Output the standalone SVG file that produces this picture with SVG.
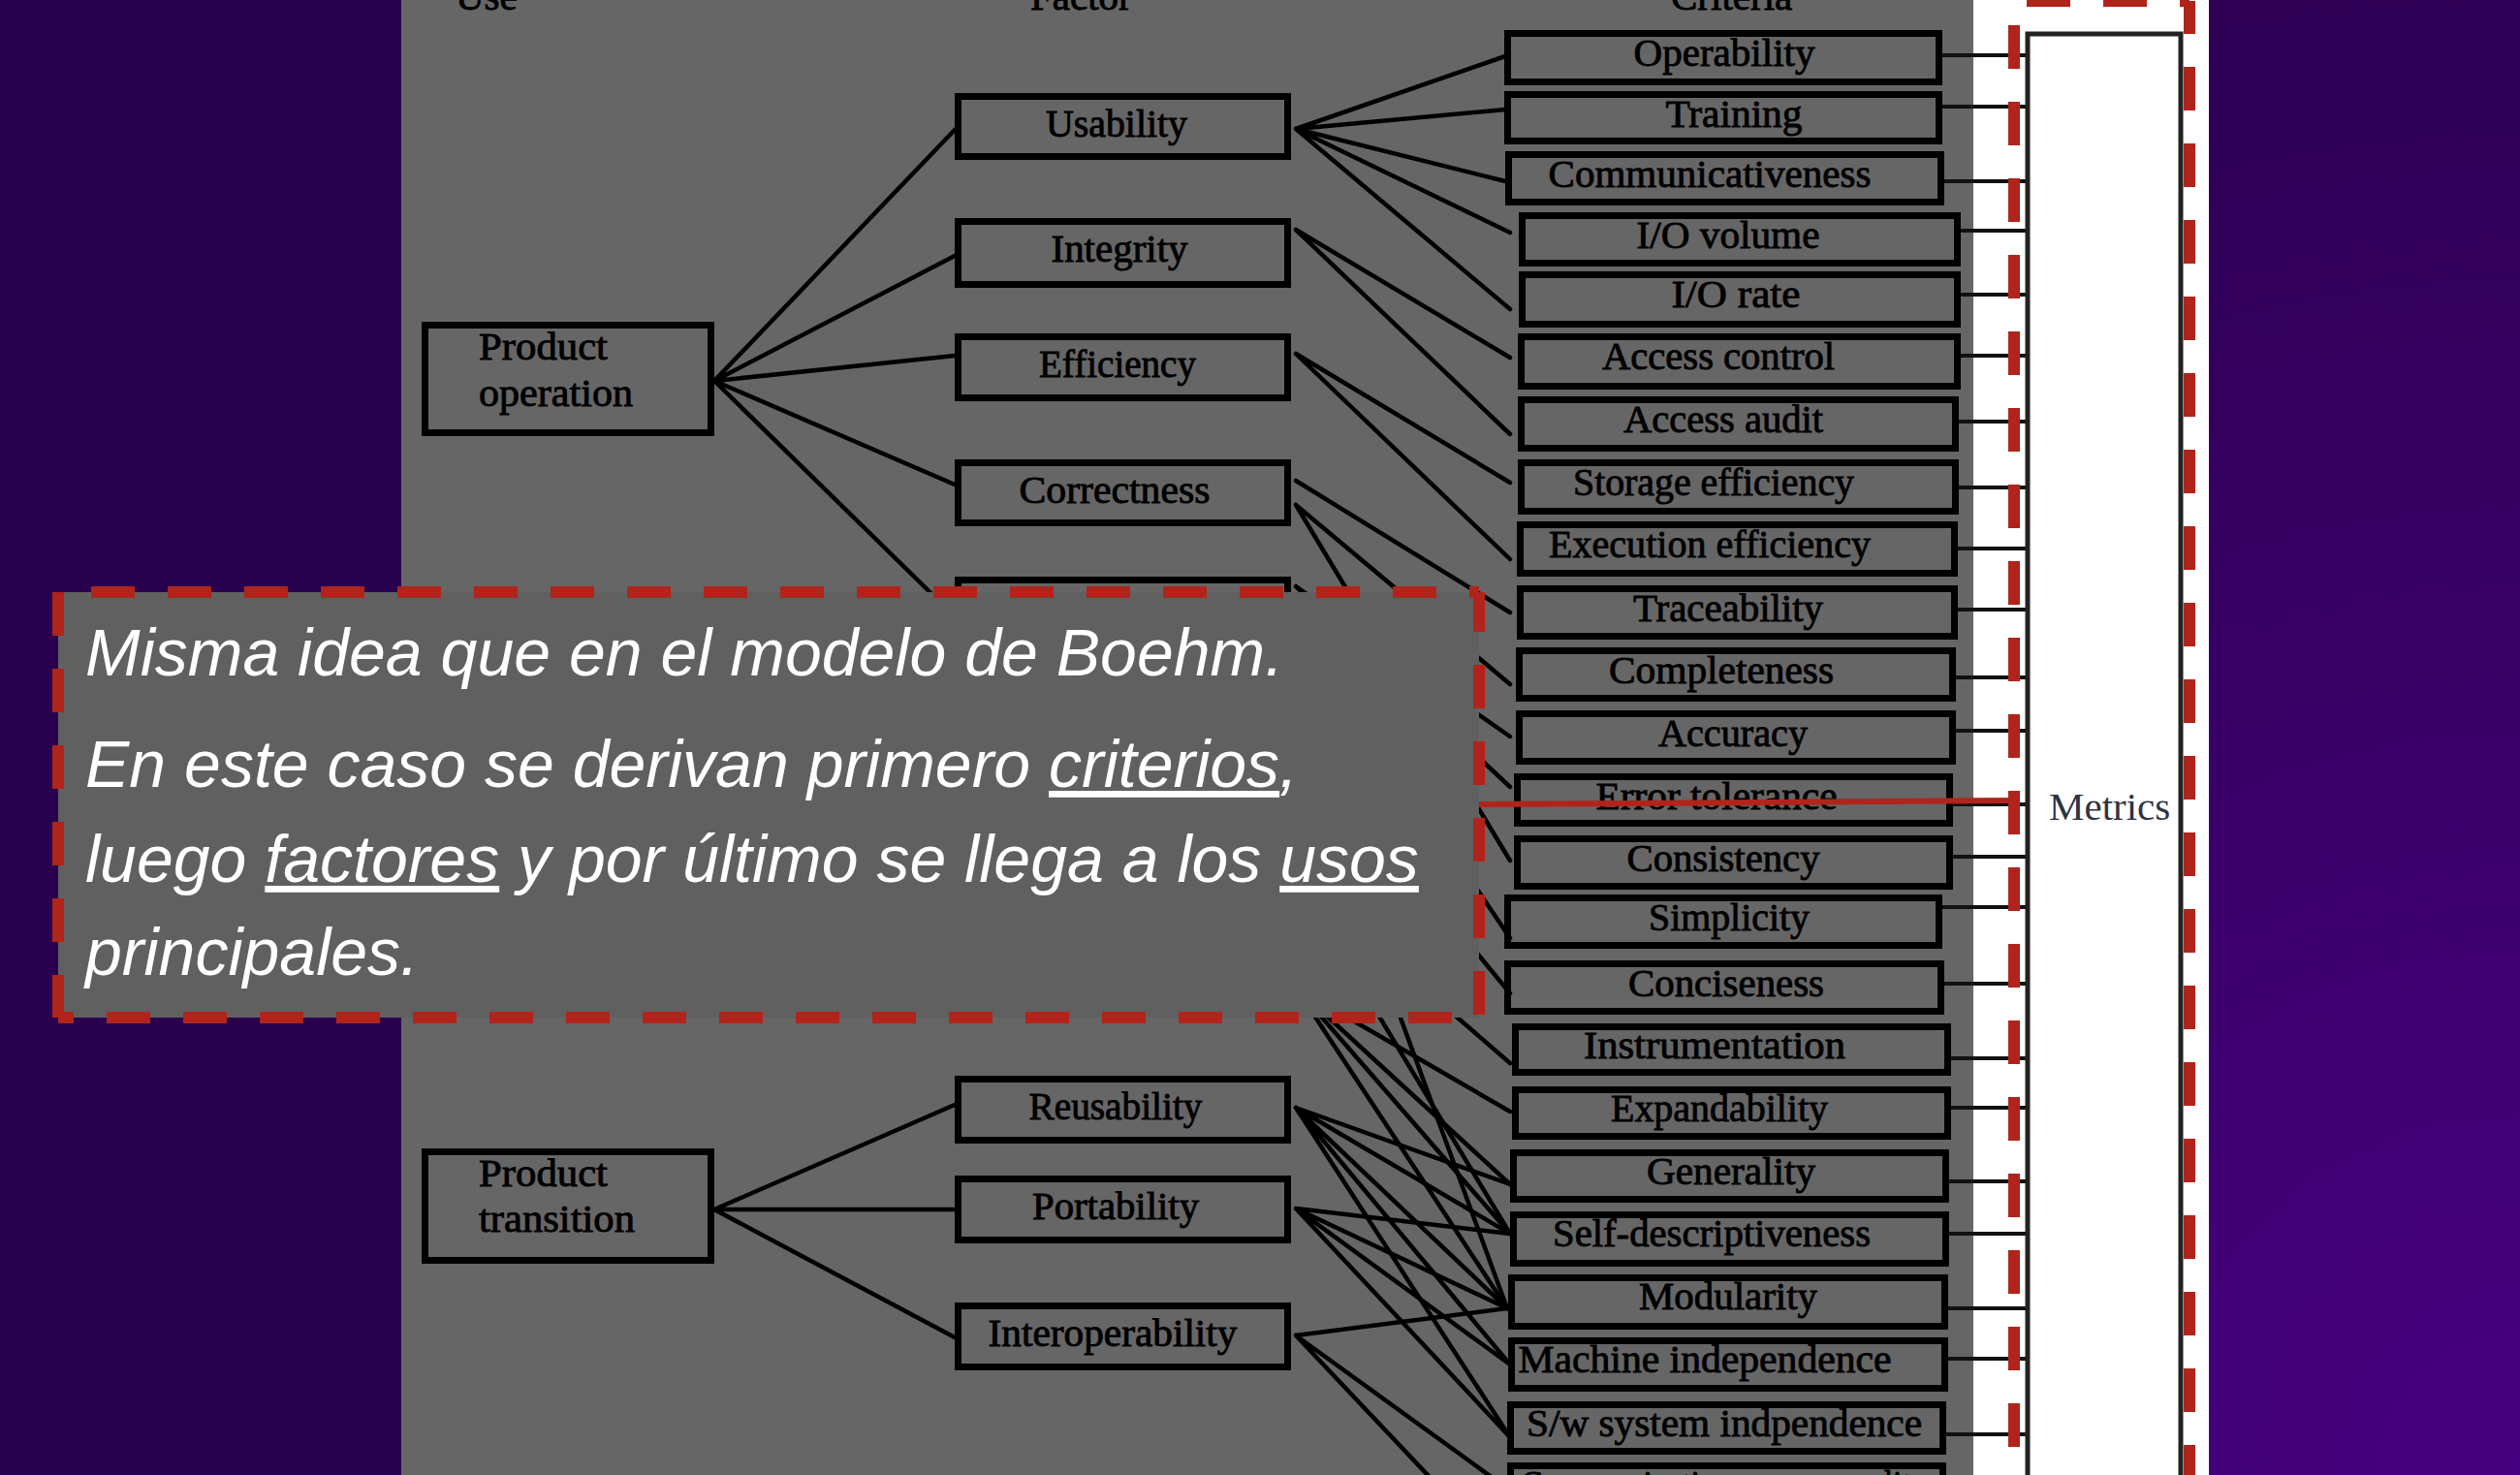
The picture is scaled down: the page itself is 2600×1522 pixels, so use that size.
<svg xmlns="http://www.w3.org/2000/svg" width="2600" height="1522" viewBox="0 0 2600 1522">
<defs>
<radialGradient id="bg" gradientUnits="userSpaceOnUse" cx="2600" cy="1522" r="1800">
<stop offset="0" stop-color="#47007f"/>
<stop offset="1" stop-color="#29004d"/>
</radialGradient>
<style>
.box{fill:none;stroke:#000;stroke-width:7}
.ln{stroke:#000;stroke-width:4.5;fill:none;stroke-linecap:round}
.ml{stroke:#111;stroke-width:4;fill:none}
.t{font-family:"Liberation Serif","Times New Roman",serif;font-size:41px;fill:#000;stroke:#000;stroke-width:0.9}
.c{text-anchor:middle}
.red{stroke:#b0241b;stroke-width:12;fill:none;stroke-dasharray:45 34}
.ov{font-family:"Liberation Sans",Arial,sans-serif;font-size:68px;font-style:italic;fill:#fff}
.u{text-decoration:underline}
</style>
</defs>
<rect width="2600" height="1522" fill="url(#bg)"/>
<rect x="414" y="0" width="1622" height="1522" fill="#666666"/>
<rect x="2036" y="0" width="243" height="1522" fill="#ffffff"/>

<g id="headers">
<text class="t" x="470" y="10">Use</text>
<text class="t" x="1063" y="10">Factor</text>
<text class="t" x="1724" y="10">Criteria</text>
</g>

<g id="connectors">
<path class="ln" d="M737,393 L985,134 M737,393 L985,264 M737,393 L985,367 M737,393 L985,500 M737,393 L985,636"/>
<path class="ln" d="M737,1248 L985,1140 M737,1248 L985,1248 M737,1248 L985,1380"/>
<path class="ln" d="M1337,133 L1553,58 M1337,133 L1553,113 M1337,133 L1553,187 M1337,133 L1558,240 M1337,133 L1558,319"/>
<path class="ln" d="M1337,237 L1558,369 M1337,237 L1558,448"/>
<path class="ln" d="M1337,365 L1558,498 M1337,365 L1558,577"/>
<path class="ln" d="M1337,496 L1558,632 M1337,521 L1558,706 M1337,521 L1558,888"/>
<path class="ln" d="M1337,605 L1558,760 M1337,605 L1558,812 M1337,640 L1558,968"/>
<path class="ln" d="M1337,756 L1558,1025 M1337,756 L1555,1350"/>
<path class="ln" d="M1337,906 L1558,1097 M1337,906 L1558,1273"/>
<path class="ln" d="M1337,1019 L1558,1147 M1337,1019 L1558,1222 M1337,1019 L1558,1273 M1337,1019 L1555,1350"/>
<path class="ln" d="M1337,1143 L1558,1222 M1337,1143 L1558,1273 M1337,1143 L1555,1350 M1337,1143 L1558,1408 M1337,1143 L1558,1483"/>
<path class="ln" d="M1337,1247 L1558,1273 M1337,1247 L1555,1350 M1337,1247 L1558,1408 M1337,1247 L1558,1483"/>
<path class="ln" d="M1337,1378 L1555,1350 M1337,1378 L1558,1538 M1337,1378 L1558,1612"/>
</g>

<g id="metric-links">
<path class="ml" d="M2004,57 H2092 M2004,110 H2092 M2006,187 H2092 M2023,238 H2092 M2023,304 H2092 M2023,367 H2092 M2021,435 H2092 M2021,503 H2092 M2020,566 H2092 M2020,629 H2092 M2018,699 H2092 M2018,754 H2092 M2015,830 H2092 M2015,884 H2092 M2004,936 H2092 M2006,1015 H2092 M2013,1092 H2092 M2013,1143 H2092 M2011,1219 H2092 M2011,1273 H2092 M2010,1350 H2092 M2010,1402 H2092 M2008,1480 H2092"/>
</g>

<g id="use-product-operation"><rect class="box" x="438.5" y="335.5" width="295" height="111"/><text class="t" x="494" y="371" textLength="133" lengthAdjust="spacingAndGlyphs">Product</text><text class="t" x="494" y="419" textLength="159" lengthAdjust="spacingAndGlyphs">operation</text></g>
<g id="use-product-transition"><rect class="box" x="438.5" y="1188.5" width="295" height="112"/><text class="t" x="494" y="1224" textLength="133" lengthAdjust="spacingAndGlyphs">Product</text><text class="t" x="494" y="1271" textLength="161" lengthAdjust="spacingAndGlyphs">transition</text></g>

<g id="factor-usability"><rect class="box" x="988.5" y="99.5" width="340" height="62"/><text class="t c" x="1152" y="141" textLength="146" lengthAdjust="spacingAndGlyphs">Usability</text></g>
<g id="factor-integrity"><rect class="box" x="988.5" y="228.5" width="340" height="65"/><text class="t c" x="1155" y="270" textLength="141" lengthAdjust="spacingAndGlyphs">Integrity</text></g>
<g id="factor-efficiency"><rect class="box" x="988.5" y="347.5" width="340" height="63"/><text class="t c" x="1153" y="389" textLength="162" lengthAdjust="spacingAndGlyphs">Efficiency</text></g>
<g id="factor-correctness"><rect class="box" x="988.5" y="477.5" width="340" height="62"/><text class="t c" x="1150" y="519" textLength="197" lengthAdjust="spacingAndGlyphs">Correctness</text></g>
<g id="factor-hidden-1"><rect class="box" x="988.5" y="598.5" width="340" height="63"/></g>
<g id="factor-hidden-2"><rect class="box" x="988.5" y="723.5" width="340" height="63"/></g>
<g id="factor-hidden-3"><rect class="box" x="988.5" y="873.5" width="340" height="63"/></g>
<g id="factor-hidden-4"><rect class="box" x="988.5" y="983.5" width="340" height="63"/></g>
<g id="factor-reusability"><rect class="box" x="988.5" y="1113.5" width="340" height="63"/><text class="t c" x="1151" y="1155" textLength="179" lengthAdjust="spacingAndGlyphs">Reusability</text></g>
<g id="factor-portability"><rect class="box" x="988.5" y="1216.5" width="340" height="63"/><text class="t c" x="1151" y="1258" textLength="172" lengthAdjust="spacingAndGlyphs">Portability</text></g>
<g id="factor-interoperability"><rect class="box" x="988.5" y="1347.5" width="340" height="63"/><text class="t c" x="1148" y="1389" textLength="257" lengthAdjust="spacingAndGlyphs">Interoperability</text></g>

<g id="crit-operability"><rect class="box" x="1555.5" y="34.5" width="445" height="50"/><text class="t c" x="1779" y="68" textLength="187" lengthAdjust="spacingAndGlyphs">Operability</text></g>
<g id="crit-training"><rect class="box" x="1555.5" y="97.5" width="445" height="48"/><text class="t c" x="1789" y="131" textLength="141" lengthAdjust="spacingAndGlyphs">Training</text></g>
<g id="crit-communicativeness"><rect class="box" x="1556.5" y="159.5" width="446" height="49"/><text class="t c" x="1764" y="193" textLength="333" lengthAdjust="spacingAndGlyphs">Communicativeness</text></g>
<g id="crit-io-volume"><rect class="box" x="1570.5" y="222.5" width="449" height="49"/><text class="t c" x="1783" y="256" textLength="189" lengthAdjust="spacingAndGlyphs">I/O volume</text></g>
<g id="crit-io-rate"><rect class="box" x="1570.5" y="283.5" width="449" height="51"/><text class="t c" x="1791" y="317" textLength="133" lengthAdjust="spacingAndGlyphs">I/O rate</text></g>
<g id="crit-access-control"><rect class="box" x="1569.5" y="347.5" width="450" height="51"/><text class="t c" x="1773" y="381" textLength="240" lengthAdjust="spacingAndGlyphs">Access control</text></g>
<g id="crit-access-audit"><rect class="box" x="1569.5" y="412.5" width="448" height="50"/><text class="t c" x="1778" y="446" textLength="206" lengthAdjust="spacingAndGlyphs">Access audit</text></g>
<g id="crit-storage-efficiency"><rect class="box" x="1569.5" y="477.5" width="448" height="50"/><text class="t c" x="1768" y="511" textLength="290" lengthAdjust="spacingAndGlyphs">Storage efficiency</text></g>
<g id="crit-execution-efficiency"><rect class="box" x="1568.5" y="541.5" width="448" height="50"/><text class="t c" x="1764" y="575" textLength="332" lengthAdjust="spacingAndGlyphs">Execution efficiency</text></g>
<g id="crit-traceability"><rect class="box" x="1568.5" y="607.5" width="448" height="49"/><text class="t c" x="1783" y="641" textLength="196" lengthAdjust="spacingAndGlyphs">Traceability</text></g>
<g id="crit-completeness"><rect class="box" x="1567.5" y="671.5" width="447" height="49"/><text class="t c" x="1776" y="705" textLength="232" lengthAdjust="spacingAndGlyphs">Completeness</text></g>
<g id="crit-accuracy"><rect class="box" x="1567.5" y="736.5" width="447" height="49"/><text class="t c" x="1788" y="770" textLength="154" lengthAdjust="spacingAndGlyphs">Accuracy</text></g>
<g id="crit-error-tolerance"><rect class="box" x="1565.5" y="801.5" width="446" height="48"/><text class="t c" x="1771" y="835" textLength="249" lengthAdjust="spacingAndGlyphs">Error tolerance</text></g>
<g id="crit-consistency"><rect class="box" x="1565.5" y="865.5" width="446" height="49"/><text class="t c" x="1778" y="899" textLength="199" lengthAdjust="spacingAndGlyphs">Consistency</text></g>
<g id="crit-simplicity"><rect class="box" x="1555.5" y="926.5" width="445" height="49"/><text class="t c" x="1784" y="960" textLength="166" lengthAdjust="spacingAndGlyphs">Simplicity</text></g>
<g id="crit-conciseness"><rect class="box" x="1555.5" y="994.5" width="447" height="49"/><text class="t c" x="1781" y="1028" textLength="202" lengthAdjust="spacingAndGlyphs">Conciseness</text></g>
<g id="crit-instrumentation"><rect class="box" x="1563.5" y="1059.5" width="446" height="47"/><text class="t c" x="1769" y="1092" textLength="270" lengthAdjust="spacingAndGlyphs">Instrumentation</text></g>
<g id="crit-expandability"><rect class="box" x="1563.5" y="1124.5" width="446" height="48"/><text class="t c" x="1774" y="1157" textLength="224" lengthAdjust="spacingAndGlyphs">Expandability</text></g>
<g id="crit-generality"><rect class="box" x="1561.5" y="1189.5" width="446" height="48"/><text class="t c" x="1786" y="1222" textLength="174" lengthAdjust="spacingAndGlyphs">Generality</text></g>
<g id="crit-self-descriptiveness"><rect class="box" x="1561.5" y="1253.5" width="446" height="50"/><text class="t c" x="1766" y="1286" textLength="328" lengthAdjust="spacingAndGlyphs">Self-descriptiveness</text></g>
<g id="crit-modularity"><rect class="box" x="1559.5" y="1318.5" width="447" height="50"/><text class="t c" x="1783" y="1351" textLength="184" lengthAdjust="spacingAndGlyphs">Modularity</text></g>
<g id="crit-machine-independence"><rect class="box" x="1559.5" y="1383.5" width="447" height="49"/><text class="t c" x="1759" y="1416" textLength="385" lengthAdjust="spacingAndGlyphs">Machine independence</text></g>
<g id="crit-sw-system-independence"><rect class="box" x="1558.5" y="1449.5" width="446" height="48"/><text class="t c" x="1779" y="1482" textLength="408" lengthAdjust="spacingAndGlyphs">S/w system indpendence</text></g>
<g id="crit-communications-commonality"><rect class="box" x="1558.5" y="1512.5" width="446" height="49"/><text class="t c" x="1779" y="1545" textLength="420" lengthAdjust="spacingAndGlyphs">Communications commonality</text></g>

<g id="metrics"><rect x="2092" y="35" width="158" height="1600" fill="#fff" stroke="#222" stroke-width="5"/><text x="2114" y="846" font-family="'Liberation Serif','Times New Roman',serif" font-size="41" fill="#2f3340">Metrics</text></g>

<g id="highlight-metrics">
<path class="red" d="M2078,1 H2259" stroke-dashoffset="66"/>
<path class="red" d="M2078,1 V1540" stroke-dashoffset="54"/>
<path class="red" d="M2259,1 V1540" stroke-dashoffset="11"/>
</g>

<g id="note">
<rect x="60" y="611" width="1466" height="439" fill="#606060"/>
<path class="red" d="M60,611 H1526" stroke-dashoffset="45"/>
<path class="red" d="M60,1050 H1526" stroke-dashoffset="29"/>
<path class="red" d="M60,611 V1050" stroke-dashoffset="0"/>
<path class="red" d="M1526,611 V1050" stroke-dashoffset="4"/>
<text class="ov" x="88" y="697">Misma idea que en el modelo de Boehm.</text>
<text class="ov" x="88" y="812">En este caso se derivan primero <tspan class="u">criterios</tspan>,</text>
<text class="ov" x="88" y="910">luego <tspan class="u">factores</tspan> y por último se llega a los <tspan class="u">usos</tspan></text>
<text class="ov" x="88" y="1006">principales.</text>
</g>
<path d="M1526,830 L2078,826" stroke="#b0241b" stroke-width="6" fill="none"/>
</svg>
